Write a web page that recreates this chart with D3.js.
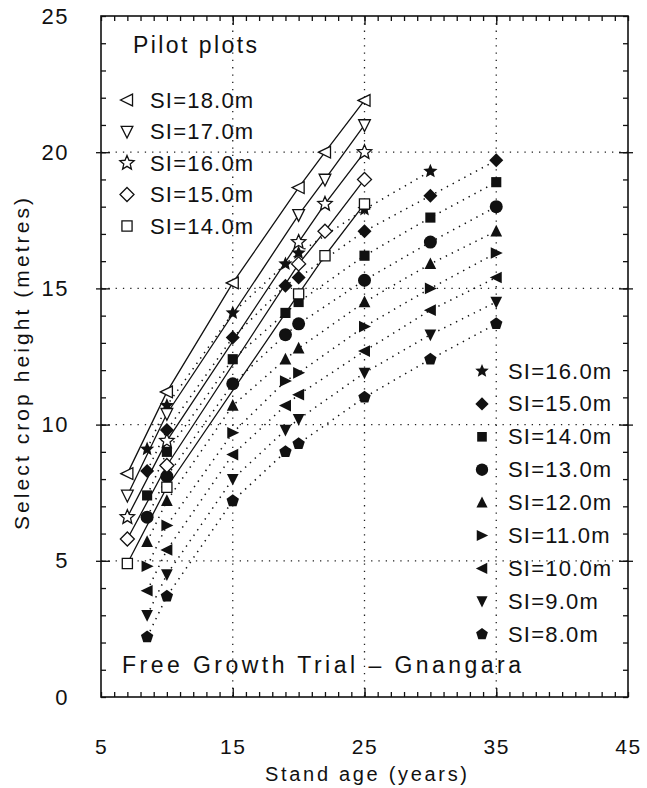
<!DOCTYPE html>
<html>
<head>
<meta charset="utf-8">
<script src="https://cdn.jsdelivr.net/npm/d3@7"></script>
<style>
  body { margin: 0; background: #fff; }
  text { font-family: "Liberation Sans", Arial, sans-serif; fill: #111; }
</style>
</head>
<body>
<svg id="chart" width="647" height="788"></svg>
<script>
// ---- Pilot plots (open symbols, solid lines); null = not measured ----
const pilotAges = [7, 10, 15, 20, 22, 25];
const pilotLabels = ["SI=18.0m", "SI=17.0m", "SI=16.0m", "SI=15.0m", "SI=14.0m"];
const pilot18 = [8.2, 11.2, 15.2, 18.7, 20.0, 21.9];
const pilot17 = [7.4, 10.4, null, 17.7, 19.0, 21.0];
const pilot16 = [6.6, 9.4, null, 16.7, 18.1, 20.0];
const pilot15 = [5.8, 8.5, null, 15.9, 17.1, 19.0];
const pilot14 = [4.9, 7.7, null, 14.8, 16.2, 18.1];

// ---- Free Growth Trial (filled symbols, dotted lines) ----
const trialAges = [8.5, 10, 15, 19, 20, 25, 30, 35];
const trialLabels = ["SI=16.0m", "SI=15.0m", "SI=14.0m", "SI=13.0m", "SI=12.0m",
                     "SI=11.0m", "SI=10.0m", "SI=9.0m", "SI=8.0m"];
const trial16 = [9.1, 10.7, 14.1, 15.9, 16.3, 17.9, 19.3, null];
const trial15 = [8.3, 9.8, 13.2, 15.1, 15.4, 17.1, 18.4, 19.7];
const trial14 = [7.4, 9.0, 12.4, 14.1, 14.5, 16.2, 17.6, 18.9];
const trial13 = [6.6, 8.1, 11.5, 13.3, 13.7, 15.3, 16.7, 18.0];
const trial12 = [5.7, 7.2, 10.7, 12.4, 12.8, 14.5, 15.9, 17.1];
const trial11 = [4.8, 6.3, 9.7, 11.6, 11.9, 13.6, 15.0, 16.3];
const trial10 = [3.9, 5.4, 8.9, 10.7, 11.1, 12.7, 14.2, 15.4];
const trial9  = [3.0, 4.5, 8.0, 9.8, 10.2, 11.9, 13.3, 14.5];
const trial8  = [2.2, 3.7, 7.2, 9.0, 9.3, 11.0, 12.4, 13.7];

// ---- Axis ticks ----
const xTicks = [5, 15, 25, 35, 45];
const yTicks = [0, 5, 10, 15, 20, 25];
const xGrid = [15, 25, 35];
const yGrid = [5, 10, 15, 20];

// ---- Symbol shapes (size argument = radius in px) ----
function poly(c, pts) { c.moveTo(pts[0][0], pts[0][1]); pts.slice(1).forEach(p => c.lineTo(p[0], p[1])); c.closePath(); }
const shapes = {
  triLeft:  { draw(c, r) { poly(c, [[-r, 0], [0.85 * r, -0.9 * r], [0.85 * r, 0.9 * r]]); } },
  triRight: { draw(c, r) { poly(c, [[r, 0], [-0.85 * r, -0.9 * r], [-0.85 * r, 0.9 * r]]); } },
  triDown:  { draw(c, r) { poly(c, [[0, r], [-0.9 * r, -0.8 * r], [0.9 * r, -0.8 * r]]); } },
  triUp:    { draw(c, r) { poly(c, [[0, -r], [-0.9 * r, 0.8 * r], [0.9 * r, 0.8 * r]]); } },
  diamond:  { draw(c, r) { poly(c, [[0, -r], [r, 0], [0, r], [-r, 0]]); } },
  square:   { draw(c, r) { const s = 0.78 * r; poly(c, [[-s, -s], [s, -s], [s, s], [-s, s]]); } },
  circle:   { draw(c, r) { c.moveTo(r, 0); c.arc(0, 0, r, 0, 2 * Math.PI); } },
  star:     { draw(c, r) {
      const pts = [];
      for (let i = 0; i < 10; i++) {
        const a = -Math.PI / 2 + i * Math.PI / 5, rr = i % 2 ? 0.45 * r : r;
        pts.push([rr * Math.cos(a), rr * Math.sin(a)]);
      }
      poly(c, pts);
  } },
  pentagon: { draw(c, r) {
      const pts = [];
      for (let i = 0; i < 5; i++) {
        const a = -Math.PI / 2 + i * 2 * Math.PI / 5;
        pts.push([r * Math.cos(a), r * Math.sin(a)]);
      }
      poly(c, pts);
  } }
};

const pilotSeries = [
  { label: pilotLabels[0], values: pilot18, shape: "triLeft",  r: 6.5 },
  { label: pilotLabels[1], values: pilot17, shape: "triDown",  r: 6.5 },
  { label: pilotLabels[2], values: pilot16, shape: "star",     r: 7.5 },
  { label: pilotLabels[3], values: pilot15, shape: "diamond",  r: 7 },
  { label: pilotLabels[4], values: pilot14, shape: "square",   r: 6.5 }
];
const trialSeries = [
  { label: trialLabels[0], values: trial16, shape: "star",     r: 7.5 },
  { label: trialLabels[1], values: trial15, shape: "diamond",  r: 7 },
  { label: trialLabels[2], values: trial14, shape: "square",   r: 6.5 },
  { label: trialLabels[3], values: trial13, shape: "circle",   r: 6.5 },
  { label: trialLabels[4], values: trial12, shape: "triUp",    r: 6.5 },
  { label: trialLabels[5], values: trial11, shape: "triRight", r: 6.5 },
  { label: trialLabels[6], values: trial10, shape: "triLeft",  r: 6.5 },
  { label: trialLabels[7], values: trial9,  shape: "triDown",  r: 6.5 },
  { label: trialLabels[8], values: trial8,  shape: "pentagon", r: 6.5 }
];

// ---- Layout ----
const svg = d3.select("#chart");
const plotLeft = 101, plotRight = 628, plotTop = 16, plotBottom = 697;
const x = d3.scaleLinear().domain([5, 45]).range([plotLeft, plotRight]);
const y = d3.scaleLinear().domain([0, 25]).range([plotBottom, plotTop]);
const symbol = (shape, r) => d3.symbol().type(shapes[shape]).size(r)();

// Dotted grid
const grid = svg.append("g").attr("stroke", "#222").attr("stroke-width", 1.3)
  .attr("stroke-dasharray", "1.3,6");
grid.selectAll("line.vx").data(xGrid).join("line").attr("class", "vx")
  .attr("x1", d => x(d)).attr("x2", d => x(d)).attr("y1", plotTop).attr("y2", plotBottom);
grid.selectAll("line.hy").data(yGrid).join("line").attr("class", "hy")
  .attr("y1", d => y(d)).attr("y2", d => y(d)).attr("x1", plotLeft).attr("x2", plotRight);

// Frame with minor and major ticks on all four sides
function tickAxis(axis, tr) {
  const g = svg.append("g").attr("transform", tr).call(axis);
  g.select(".domain").remove();
  g.selectAll("line").attr("stroke", "#111").attr("stroke-width", 1.3);
  return g;
}
const xMinor = d3.range(5, 46, 1), yMinor = d3.range(0, 26, 1);
tickAxis(d3.axisBottom(x).tickValues(xMinor).tickSize(-5).tickFormat(""), `translate(0,${plotBottom})`);
tickAxis(d3.axisTop(x).tickValues(xMinor).tickSize(-5).tickFormat(""), `translate(0,${plotTop})`);
tickAxis(d3.axisLeft(y).tickValues(yMinor).tickSize(-5).tickFormat(""), `translate(${plotLeft},0)`);
tickAxis(d3.axisRight(y).tickValues(yMinor).tickSize(-5).tickFormat(""), `translate(${plotRight},0)`);
tickAxis(d3.axisBottom(x).tickValues(xGrid).tickSize(-9).tickFormat(""), `translate(0,${plotBottom})`);
tickAxis(d3.axisTop(x).tickValues(xGrid).tickSize(-9).tickFormat(""), `translate(0,${plotTop})`);
tickAxis(d3.axisLeft(y).tickValues(yGrid).tickSize(5).tickFormat(""), `translate(${plotLeft},0)`);
tickAxis(d3.axisLeft(y).tickValues(yGrid).tickSize(-9).tickFormat(""), `translate(${plotLeft},0)`);
tickAxis(d3.axisRight(y).tickValues(yGrid).tickSize(5).tickFormat(""), `translate(${plotRight},0)`);
tickAxis(d3.axisRight(y).tickValues(yGrid).tickSize(-9).tickFormat(""), `translate(${plotRight},0)`);

svg.append("rect").attr("x", plotLeft).attr("y", plotTop)
  .attr("width", plotRight - plotLeft).attr("height", plotBottom - plotTop)
  .attr("fill", "none").attr("stroke", "#111").attr("stroke-width", 1.6);

// Tick labels
const xl = svg.append("g").attr("transform", `translate(0,${plotBottom})`)
  .call(d3.axisBottom(x).tickValues(xTicks).tickSize(0).tickPadding(42).tickFormat(d3.format("d")));
xl.select(".domain").remove();
xl.selectAll("text").attr("font-size", 21).attr("letter-spacing", 1.5)
  .attr("font-family", "Liberation Sans, Arial, sans-serif").attr("fill", "#111");

const yl = svg.append("g").attr("transform", `translate(${plotLeft},0)`)
  .call(d3.axisLeft(y).tickValues(yTicks).tickSize(0).tickPadding(32).tickFormat(d3.format("d")));
yl.select(".domain").remove();
yl.selectAll("text").attr("font-size", 22).attr("letter-spacing", 1.5)
  .attr("font-family", "Liberation Sans, Arial, sans-serif").attr("fill", "#111");

// Axis titles
svg.append("text").attr("x", 366).attr("y", 781).attr("text-anchor", "middle")
  .attr("font-size", 20).attr("textLength", 202).attr("lengthAdjust", "spacing")
  .text("Stand age (years)");
svg.append("text").attr("transform", "translate(29,364) rotate(-90)").attr("text-anchor", "middle")
  .attr("font-size", 21).attr("textLength", 332).attr("lengthAdjust", "spacing")
  .text("Select crop height (metres)");

// Series lines
const line = d3.line().x(d => x(d[0])).y(d => y(d[1]));
const pts = (ages, vals) => ages.map((a, i) => [a, vals[i]]).filter(d => d[1] != null);

svg.append("g").selectAll("path").data(trialSeries).join("path")
  .attr("d", s => line(pts(trialAges, s.values)))
  .attr("fill", "none").attr("stroke", "#111").attr("stroke-width", 1.5)
  .attr("stroke-dasharray", "1.4,5.2");

svg.append("g").selectAll("path").data(pilotSeries).join("path")
  .attr("d", s => line(pts(pilotAges, s.values)))
  .attr("fill", "none").attr("stroke", "#111").attr("stroke-width", 1.3);

// Markers
trialSeries.forEach(s => {
  svg.append("g").selectAll("path").data(pts(trialAges, s.values)).join("path")
    .attr("transform", d => `translate(${x(d[0])},${y(d[1])})`)
    .attr("d", symbol(s.shape, s.r)).attr("fill", "#111");
});
pilotSeries.forEach(s => {
  svg.append("g").selectAll("path").data(pts(pilotAges, s.values)).join("path")
    .attr("transform", d => `translate(${x(d[0])},${y(d[1])})`)
    .attr("d", symbol(s.shape, s.r)).attr("fill", "#fff")
    .attr("stroke", "#111").attr("stroke-width", 1.3);
});

// Legends
svg.append("text").attr("x", 133).attr("y", 53).attr("font-size", 23)
  .attr("textLength", 124).attr("lengthAdjust", "spacing").text("Pilot plots");

const lp = svg.append("g").selectAll("g").data(pilotSeries).join("g")
  .attr("transform", (d, i) => `translate(127,${100 + i * 31.5})`);
lp.append("path").attr("d", s => symbol(s.shape, s.r)).attr("fill", "#fff")
  .attr("stroke", "#111").attr("stroke-width", 1.3);
lp.append("text").attr("x", 23).attr("y", 7.5).attr("font-size", 22)
  .attr("letter-spacing", 1.2).text(s => s.label);

const lt = svg.append("g").selectAll("g").data(trialSeries).join("g")
  .attr("transform", (d, i) => `translate(482,${371 + i * 32.9})`);
lt.append("path").attr("d", s => symbol(s.shape, s.r * 0.95)).attr("fill", "#111");
lt.append("text").attr("x", 26).attr("y", 7.5).attr("font-size", 22)
  .attr("letter-spacing", 1.2).text(s => s.label);

svg.append("text").attr("x", 122).attr("y", 673).attr("font-size", 23)
  .attr("textLength", 399).attr("lengthAdjust", "spacing")
  .text("Free Growth Trial – Gnangara");
</script>
</body>
</html>
